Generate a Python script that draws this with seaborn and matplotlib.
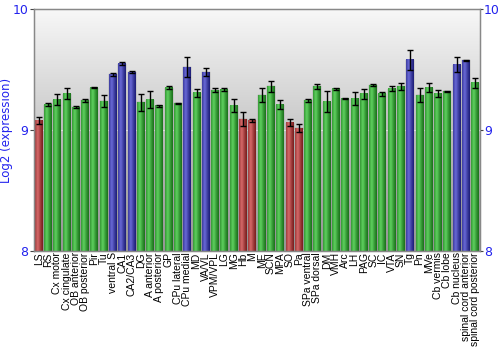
import numpy as np
import pandas as pd
import matplotlib
matplotlib.use("Agg")
import matplotlib.pyplot as plt
import seaborn as sns

regions = ["LS", "RS", "Cx motor", "Cx cingulate", "OB anterior", "OB posterior", "Pir", "Tu",
           "ventral S", "CA1", "CA2/CA3", "DG", "A anterior", "A posterior", "GP", "CPu lateral",
           "CPu medial", "MD", "VA/VL", "VPM/VPL", "LG", "MG", "Hb", "M", "ME", "SCN", "MPA",
           "SO", "Pa", "SPa ventral", "SPa dorsal", "DM", "VMH", "Arc", "LH", "PAG", "SC", "IC",
           "VTA", "SN", "Tg", "Pn", "MVe", "Cb vermis", "Cb lobe", "Cb nucleus",
           "spinal cord anterior", "spinal cord posterior"]
values = [9.077, 9.21, 9.25, 9.30, 9.19, 9.245, 9.35, 9.24,
          9.46, 9.55, 9.48, 9.23, 9.25, 9.20, 9.35, 9.22,
          9.52, 9.31, 9.48, 9.33, 9.335, 9.20, 9.09, 9.08, 9.29, 9.36, 9.21,
          9.06, 9.017, 9.245, 9.36, 9.235, 9.34, 9.26, 9.26, 9.30, 9.37, 9.30,
          9.34, 9.36, 9.58, 9.29, 9.35, 9.30, 9.32, 9.54,
          9.575, 9.39]
errors = [0.028, 0.011, 0.047, 0.045, 0.005, 0.01, 0.005, 0.047,
          0.01, 0.015, 0.005, 0.07, 0.07, 0.01, 0.01, 0.005,
          0.085, 0.033, 0.03, 0.015, 0.01, 0.054, 0.056, 0.01, 0.055, 0.043, 0.036,
          0.028, 0.03, 0.01, 0.02, 0.084, 0.01, 0.005, 0.057, 0.04, 0.01, 0.015,
          0.02, 0.03, 0.08, 0.058, 0.035, 0.03, 0.005, 0.063,
          0.005, 0.044]
groups = ["low", "mid", "mid", "mid", "mid", "mid", "mid", "mid",
          "high", "high", "high", "mid", "mid", "mid", "mid", "mid",
          "high", "mid", "high", "mid", "mid", "mid", "low", "low", "mid", "mid", "mid",
          "low", "low", "mid", "mid", "mid", "mid", "mid", "mid", "mid", "mid", "mid",
          "mid", "mid", "high", "mid", "mid", "mid", "mid", "high",
          "high", "mid"]
yticks = [8, 9, 10]

palette = {"low": "#b83434", "mid": "#2fa22f", "high": "#3535a8"}
shades = {"low": ("#7a1e1e", "#d86a6a"), "mid": ("#1b721b", "#5fd25f"), "high": ("#1e1e78", "#6a6ad8")}
blue = "#2222ee"

df = pd.DataFrame({"region": regions, "value": values, "err": errors, "group": groups})

fig = plt.figure(figsize=(5, 3.5), dpi=100)
ax = fig.add_axes([0.068, 0.283, 0.892, 0.691])

# background gradient
grad = np.linspace(0, 1, 256).reshape(-1, 1)
bg = np.dstack([0.97 - 0.37 * grad] * 3)
ax.imshow(bg, extent=[0, 1, 0, 1], transform=ax.transAxes, aspect="auto", zorder=0)

ax.axhline(9, color="white", lw=0.8, alpha=0.8, zorder=0.5)

sns.barplot(data=df, x="region", y="value", hue="group", palette=palette, dodge=False,
            width=0.86, legend=False, ax=ax, errorbar=None, zorder=2,
            edgecolor="#888888", linewidth=0.3)

ax.set_xlim(-0.5, len(regions) - 0.5)
ax.set_ylim(yticks[0], yticks[-1])
ybot = ax.get_ylim()[0]

# cylindrical shading on bars
prof = np.linspace(-1, 1, 64)
for patch, g in zip(sorted(ax.patches, key=lambda p: p.get_x()), df["group"]):
    if patch.get_height() == 0:
        continue
    dark, light = shades[g]
    dc = np.array(matplotlib.colors.to_rgb(dark))
    lc = np.array(matplotlib.colors.to_rgb(light))
    t = np.clip(1 - np.abs(prof + 0.3) / 1.3, 0, 1) ** 1.2
    img = (dc[None, :] * (1 - t[:, None]) + lc[None, :] * t[:, None])[None, :, :]
    x0 = patch.get_x()
    w = patch.get_width()
    top = patch.get_y() + patch.get_height()
    ax.imshow(img, extent=[x0, x0 + w, max(patch.get_y(), ybot), top],
              aspect="auto", zorder=2.1, interpolation="bilinear")

xs = np.arange(len(regions))
ax.errorbar(xs, values, yerr=errors, fmt="none", ecolor="black", elinewidth=1,
            capsize=2, capthick=1, zorder=3)

ax.set_xlim(-0.5, len(regions) - 0.5)
ax.set_ylim(yticks[0], yticks[-1])
ax.set_yticks(yticks)
ax.set_yticklabels([str(v) for v in yticks], color=blue, fontsize=9)
ax.set_ylabel("Log2 (expression)", color=blue, fontsize=8.5)
ax.yaxis.set_label_coords(-0.048, 0.5)
ax.set_xlabel("")
ax.set_xticks(xs)
ax.set_xticklabels(regions, rotation=90, fontsize=7.5, family="Liberation Sans")
ax.tick_params(axis="x", length=0, pad=1)
ax.tick_params(axis="y", length=3, pad=1, color="#444444")
for s in ax.spines.values():
    s.set_color("#888888")
    s.set_linewidth(1)

ax2 = ax.twinx()
ax2.set_ylim(yticks[0], yticks[-1])
ax2.set_yticks(yticks)
ax2.set_yticklabels([str(v) for v in yticks], color=blue, fontsize=9)
ax2.tick_params(axis="y", length=2, pad=1, color="#444444")
for s in ax2.spines.values():
    s.set_color("#888888")

fig.savefig("out.png", dpi=100)
